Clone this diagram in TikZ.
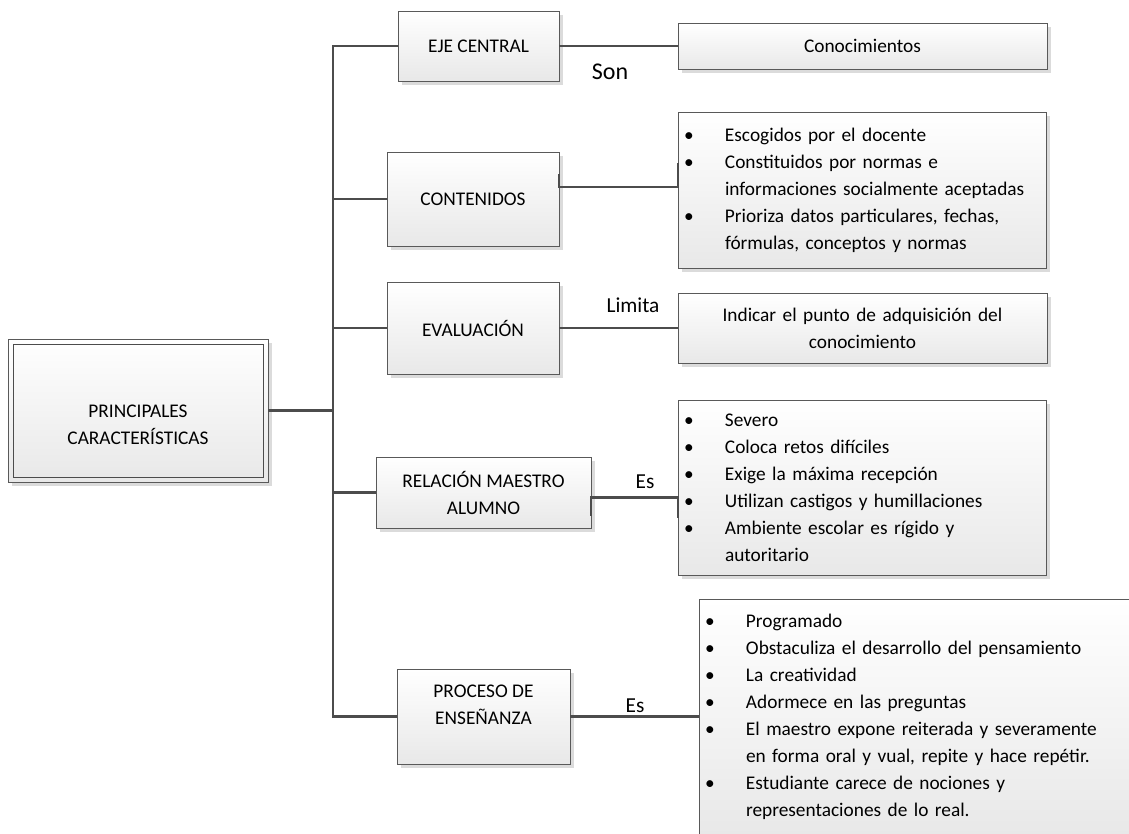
\documentclass[tikz,border=0pt]{standalone}
\usepackage{fontspec}
\setmainfont{Carlito}
\usetikzlibrary{shadows,calc}
\newcommand{\bul}{\makebox[30.75pt][l]{\textbullet}}
\newcommand{\cnt}{\hspace*{30.75pt}}

\begin{document}
\begin{tikzpicture}[x=0.75pt, y=-0.75pt,
  box/.style={draw=black!65, line width=0.6pt, top color=white,
    bottom color=black!9, drop shadow={shadow xshift=3pt,
    shadow yshift=-3pt, fill=black!14, opacity=1},
    inner sep=4.5pt, outer sep=0pt, align=center,
    font=\fontsize{14.5}{20.25}\selectfont},
  listbox/.style={box, align=left},
  link/.style={draw=black!70, line width=2pt},
  lbl/.style={font=\fontsize{16}{18}\selectfont, inner sep=0pt}]
\useasboundingbox (0,0) rectangle (1129,833);
\fill[white] (0,0) rectangle (1129,833);
\clip (0,0) rectangle (1129,833);

% left box
\node[box, minimum width=195pt, minimum height=107.25pt] (main) at (138,410.5)
  {\rule{0pt}{31pt}PRINCIPALES\\CARACTERÍSTICAS};
\draw[black!70, line width=0.6pt] ($(main.north west)+(5,5)$) rectangle ($(main.south east)+(-5,-5)$);

% middle column
\node[box, minimum width=120.75pt, minimum height=52.5pt] (eje) at (478.5,46) {EJE CENTRAL};
\node[box, minimum width=129pt, minimum height=70.5pt] (cont) at (473,199) {CONTENIDOS};
\node[box, minimum width=129pt, minimum height=69pt] (eval) at (473,328) {EVALUACIÓN};
\node[box, minimum width=161.25pt, minimum height=53.25pt] (rel) at (483.5,492.5) {RELACIÓN MAESTRO\\ALUMNO};
\node[box, minimum width=129.75pt, minimum height=71.25pt] (proc) at (483.5,716.5)
  {PROCESO DE\\ENSEÑANZA\rule[-18pt]{0pt}{1pt}};

% right column
\node[box, minimum width=276.75pt, minimum height=34.5pt] (conoc) at (862.5,46) {Conocimientos};
\node[listbox, text width=267pt, minimum height=117pt] (contl) at (862,190)
  {\bul Escogidos por el docente\\
   \bul Constituidos por normas e\\
   \cnt informaciones socialmente aceptadas\\
   \bul Prioriza datos particulares, fechas,\\
   \cnt fórmulas, conceptos y normas};
\node[box, text width=267.75pt, minimum height=52.5pt] (evall) at (862.5,328)
  {Indicar el punto de adquisición del\\conocimiento};
\node[listbox, text width=267pt, minimum height=131.25pt] (rell) at (862,487.5)
  {\bul Severo\\
   \bul Coloca retos difíciles\\
   \bul Exige la máxima recepción\\
   \bul Utilizan castigos y humillaciones\\
   \bul Ambiente escolar es rígido y\\
   \cnt autoritario};
\node[listbox, text width=328.5pt, minimum height=177pt] (procl) at (924,717)
  {\bul Programado\\
   \bul Obstaculiza el desarrollo del pensamiento\\
   \bul La creatividad\\
   \bul Adormece en las preguntas\\
   \bul El maestro expone reiterada y severamente\\
   \cnt en forma oral y vual, repite y hace repétir.\\
   \bul Estudiante carece de nociones y\\
   \cnt representaciones de lo real.};

% trunk
\coordinate (tk) at (333,0);
\draw[link] (eje.west) -- (eje.west -| tk) -- (proc.west -| tk) -- (proc.west);
\draw[link] (main.east) -- (main.east -| tk);
\foreach \n in {cont, eval, rel}
  \draw[link] (\n.west) -- (\n.west -| tk);

% branches
\draw[link] (eje.east) -- (conoc.west);
\draw[link] ($(cont.east)+(0,-25)$) -- ++(0,13) -| ($(contl.west)+(0,-27)$);
\draw[link] (eval.east) -- (evall.west);
\draw[link] ($(rel.east)+(0,23)$) -- ++(0,-18) -| ($(rell.west)+(0,30)$);
\draw[link] (proc.east) -- (proc.east -| procl.west);

\node[lbl, font=\fontsize{18}{20}\selectfont] (son) at (610,72) {Son};
\node[lbl] (limita) at (633,305) {Limita};
\node[lbl] (es1) at (645,482) {Es};
\node[lbl] (es2) at (635,706) {Es};
\end{tikzpicture}
\end{document}
